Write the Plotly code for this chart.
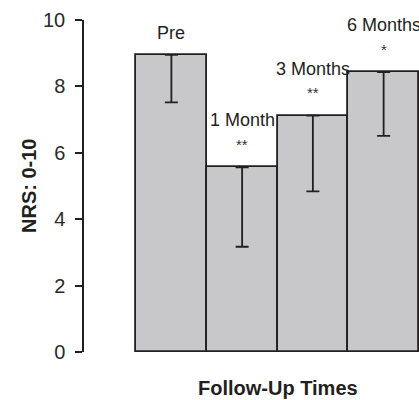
import plotly.graph_objects as go

categories = ["Pre", "1 Month", "3 Months", "6 Months"]
means = [8.95, 5.56, 7.12, 8.43]
lower_err = [1.43, 2.39, 2.28, 1.92]
stars = ["", "**", "**", "*"]
y_ticks = [0, 2, 4, 6, 8, 10]

x_pos = list(range(len(categories)))
dark = "#231f20"

fig = go.Figure()
fig.add_trace(go.Bar(
    x=x_pos, y=means, width=1,
    marker=dict(color="#c8c8ca", line=dict(color=dark, width=1.8)),
    error_y=dict(type="data", symmetric=False, array=[0] * 4,
                 arrayminus=lower_err, color=dark, thickness=1.8, width=6.5),
    showlegend=False, hoverinfo="skip",
))

ann = []
for i, (c, m, s) in enumerate(zip(categories, means, stars)):
    if s:
        ann.append(dict(x=i, y=m, xref="x", yref="y", text=s, showarrow=False,
                        yanchor="middle", yshift=23,
                        font=dict(family="Liberation Sans, Arial", size=15, color="#333")))
        ann.append(dict(x=i, y=m, xref="x", yref="y", text=c, showarrow=False,
                        yanchor="middle", yshift=47,
                        font=dict(family="Liberation Sans, Arial", size=18, color="#231f20")))
    else:
        ann.append(dict(x=i, y=m, xref="x", yref="y", text=c, showarrow=False,
                        yanchor="middle", yshift=22,
                        font=dict(family="Liberation Sans, Arial", size=18, color="#231f20")))

ann.append(dict(x=1.5, y=0, xref="x", yref="paper", text="<b>Follow-Up Times</b>",
                showarrow=False, yanchor="middle", yshift=-36,
                font=dict(family="Liberation Sans, Arial", size=20, color="#231f20")))
ann.append(dict(x=-55 / 335, y=0.5, xref="paper", yref="paper", text="<b>NRS: 0-10</b>",
                showarrow=False, textangle=-90, xanchor="center", yanchor="middle",
                font=dict(family="Liberation Sans, Arial", size=20, color="#231f20")))

fig.update_layout(
    width=419, height=400,
    margin=dict(l=84, r=0, t=20, b=48),
    paper_bgcolor="white", plot_bgcolor="white",
    bargap=0,
    annotations=ann,
    xaxis=dict(range=[-1.235, 3.5], showticklabels=False, ticks="", showline=False,
               showgrid=False, zeroline=False, fixedrange=True),
    yaxis=dict(range=[0, 10], tickvals=y_ticks, ticks="outside", ticklen=7,
               tickwidth=1.5, tickcolor=dark, showline=True, linecolor=dark, linewidth=1.5,
               showgrid=False, zeroline=False, ticklabelstandoff=6,
               tickfont=dict(family="Liberation Sans, Arial", size=20, color="#2a2a2a")),
)

fig.write_html("out.html", config={"displayModeBar": False},
               post_script="document.body.style.margin='0';document.body.style.overflow='hidden';")
